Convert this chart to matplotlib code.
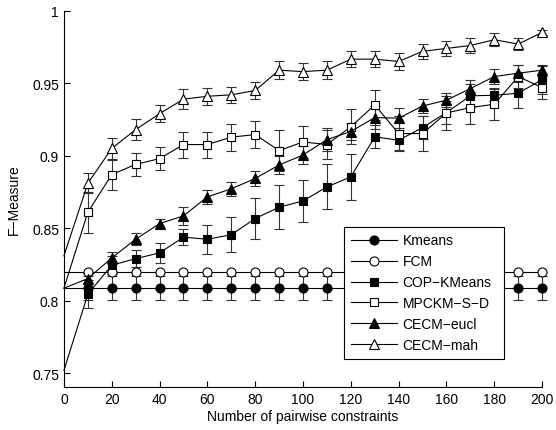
import matplotlib
matplotlib.use("Agg")
import matplotlib.pyplot as plt
import numpy as np

plt.rcParams['font.family'] = ['Liberation Sans', 'DejaVu Sans']
plt.rcParams['font.size'] = 10

# number of pairwise constraints
n_constraints = [0, 10, 20, 30, 40, 50, 60, 70, 80, 90, 100,
                 110, 120, 130, 140, 150, 160, 170, 180, 190, 200]

kmeans = [0.8086] * 21
kmeans_err = [0.0] + [0.0083] * 20
fcm = [0.8199] * 21
fcm_err = [0.0] * 21

cop_kmeans = [0.752, 0.8045, 0.8245, 0.829, 0.833, 0.8438, 0.8424, 0.8455, 0.8567, 0.8645, 0.8688,
              0.8785, 0.8854, 0.913, 0.9107, 0.9194, 0.9298, 0.9413, 0.9417, 0.9431, 0.9525]
cop_err = [0, 0.0097, 0.006, 0.006, 0.007, 0.0055, 0.010, 0.012, 0.014, 0.015, 0.0145,
           0.0155, 0.016, 0.008, 0.007, 0.008, 0.008, 0.008, 0.004, 0.010, 0.010]

mpckm = [0.8086, 0.861, 0.887, 0.894, 0.898, 0.9077, 0.9077, 0.9128, 0.9146, 0.9035, 0.9095,
         0.9077, 0.92, 0.935, 0.9153, 0.9153, 0.9295, 0.9332, 0.9355, 0.9546, 0.947]
mpckm_err = [0, 0.014, 0.0103, 0.008, 0.008, 0.009, 0.009, 0.0093, 0.0095, 0.014, 0.011,
             0.010, 0.012, 0.0103, 0.012, 0.012, 0.012, 0.011, 0.011, 0.008, 0.008]

cecm_eucl = [0.8086, 0.8153, 0.8295, 0.8424, 0.8532, 0.8585, 0.8716, 0.8772, 0.8843, 0.8936, 0.9005,
             0.9111, 0.9167, 0.9263, 0.9259, 0.9343, 0.9383, 0.9463, 0.9546, 0.9569, 0.959]
eucl_err = [0, 0.004, 0.004, 0.004, 0.003, 0.006, 0.005, 0.005, 0.005, 0.006, 0.006,
            0.008, 0.006, 0.008, 0.007, 0.005, 0.005, 0.006, 0.005, 0.006, 0.003]

cecm_mah = [0.831, 0.881, 0.905, 0.918, 0.929, 0.939, 0.941, 0.942, 0.945, 0.959, 0.958,
            0.959, 0.9666, 0.9666, 0.965, 0.972, 0.974, 0.976, 0.980, 0.977, 0.985]
mah_err = [0, 0.007, 0.007, 0.007, 0.006, 0.007, 0.006, 0.0056, 0.006, 0.006, 0.006,
           0.006, 0.0056, 0.0056, 0.006, 0.005, 0.005, 0.005, 0.0044, 0.004, 0.002]

series = [
    ("Kmeans", kmeans, kmeans_err, 'o', 'k', 6.5),
    ("FCM", fcm, fcm_err, 'o', 'w', 6.5),
    ("COP\u2212KMeans", cop_kmeans, cop_err, 's', 'k', 6),
    ("MPCKM\u2212S\u2212D", mpckm, mpckm_err, 's', 'w', 6),
    ("CECM\u2212eucl", cecm_eucl, eucl_err, '^', 'k', 7),
    ("CECM\u2212mah", cecm_mah, mah_err, '^', 'w', 7),
]

fig = plt.figure(figsize=(5.56, 4.31), dpi=100)
ax = fig.add_axes([0.115, 0.0998, 0.86, 0.873])

x = np.array(n_constraints)
handles = []
for name, vals, err, mk, fc, ms in series:
    vals = np.array(vals)
    err = np.array(err)
    if err[1:].max() > 0:
        eb = ax.errorbar(x[1:], vals[1:], yerr=err[1:], fmt='none', ecolor='#333333',
                         elinewidth=0.8, capsize=3.5, capthick=0.8, zorder=2)
        for art in eb.lines[1] + eb.lines[2]:
            art.set_clip_on(False)
    h, = ax.plot(x, vals, color='k', lw=0.8, marker=mk, markersize=ms,
                 markerfacecolor=fc, markeredgecolor='k', markeredgewidth=0.8,
                 markevery=list(range(1, 21)), zorder=3, label=name, clip_on=False)
    handles.append(h)

ax.set_xlim(0, 200)
ax.set_ylim(0.7405, 1.0)
ax.set_xticks(range(0, 201, 20))
ax.set_yticks([0.75, 0.8, 0.85, 0.9, 0.95, 1.0])
ax.set_yticklabels(["0.75", "0.8", "0.85", "0.9", "0.95", "1"])
ax.tick_params(direction='in', length=4, width=0.8, top=False, right=False)
ax.spines['top'].set_visible(False)
ax.spines['right'].set_visible(False)
ax.spines['left'].set_linewidth(0.8)
ax.spines['bottom'].set_linewidth(0.8)
ax.set_xlabel("Number of pairwise constraints", labelpad=2)
ax.set_ylabel("F\u2212Measure", labelpad=8)

leg = ax.legend(handles=handles, loc='lower left', bbox_to_anchor=(0.586, 0.074, 0.334, 0.35),
                mode='expand', fancybox=False, edgecolor='k', framealpha=1,
                handlelength=3.3, labelspacing=0.5, borderpad=0.5, handletextpad=0.4,
                borderaxespad=0)
leg.get_frame().set_linewidth(0.8)
leg.set_zorder(5)

fig.savefig("out.png", dpi=100)
